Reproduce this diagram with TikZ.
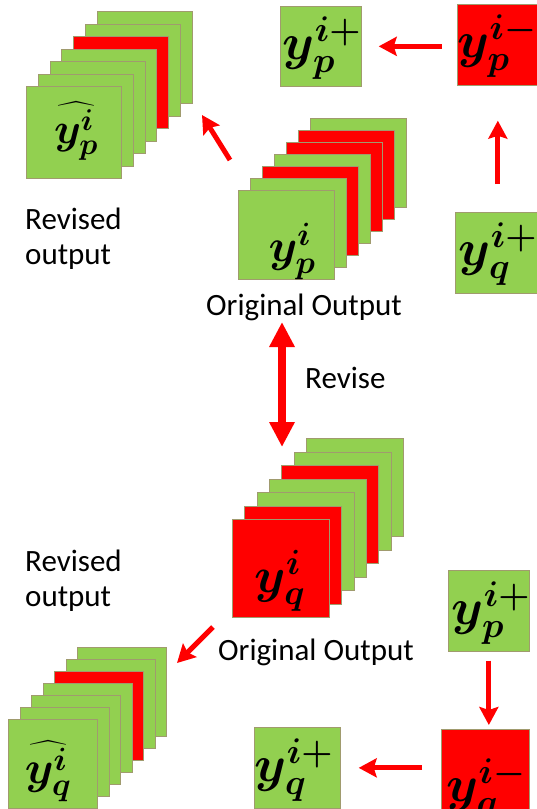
\documentclass[tikz,border=0pt]{standalone}
\usepackage{fix-cm}
\usepackage{amsmath}
\usepackage{bm}
\usepackage{fontspec}
\setmainfont{Carlito}
\usetikzlibrary{arrows.meta}
\definecolor{gr}{RGB}{146,208,80}
\definecolor{rd}{RGB}{255,0,0}
\definecolor{bord}{RGB}{160,155,110}
\newcommand\drawstack[8]{%
  \foreach \c [count=\k from 0] in {#8}{%
    \pgfmathsetmacro\off{6-\k}%
    \node[layer, fill=\c, minimum width=#4pt, minimum height=#5pt] (#1\k) at ({#2+\off*#6},{#3-\off*#7}) {};
  }%
}
\newcommand\ml[2]{\fontsize{#1}{#1}\selectfont$#2$}
\begin{document}
\begin{tikzpicture}[x=1pt,y=-1pt,
  layer/.style={draw=bord, line width=0.7pt, inner sep=0pt, anchor=north west},
  box/.style={draw=bord, line width=0.7pt, inner sep=0pt, anchor=north west},
  mlab/.style={inner sep=0pt},
  txt/.style={inner sep=0pt, font=\fontsize{31}{35}\selectfont},
  arr/.style={draw=red, line width=5pt, -{Stealth[length=18pt,width=19pt,inset=3pt]}},
  bigarr/.style={draw=red, line width=8pt, {Triangle[length=25pt,width=24pt]}-{Triangle[length=25pt,width=24pt]}}]
\useasboundingbox (0,0) rectangle (537,809);

% stacks (colors listed back to front)
\drawstack{tl}{26}{86}{95}{92}{11.8}{12.5}{gr,gr,rd,gr,gr,gr,gr}
\drawstack{tc}{238}{190}{96}{89}{12}{12}{gr,rd,rd,gr,rd,gr,gr}
\drawstack{bc}{232}{519}{97}{98}{12.3}{13.5}{gr,gr,rd,gr,gr,rd,rd}
\drawstack{bl}{8}{719}{89}{89}{11.5}{12}{gr,gr,rd,gr,gr,gr,gr}

\node[mlab] (tlm) at (76,131) {\ml{43}{\widehat{\bm{y}_{\bm{p}}^{\bm{i}}}}};
\node[mlab] (tcm) at (292,251) {\ml{46}{\bm{y_p^i}}};
\node[mlab] (bcm) at (280,581) {\ml{50}{\bm{y_q^i}}};
\node[mlab] (blm) at (48,771) {\ml{46}{\widehat{\bm{y}_{\bm{q}}^{\bm{i}}}}};

% single boxes
\node[box, fill=gr, minimum width=81pt, minimum height=80pt] (pp) at (280,6) {};
\node[box, fill=rd, minimum width=85pt, minimum height=81pt] (pm) at (457,4) {};
\node[box, fill=gr, minimum width=85pt, minimum height=81pt] (qp) at (455,212) {};
\node[box, fill=gr, minimum width=81pt, minimum height=81pt] (pp2) at (448,570) {};
\node[box, fill=rd, minimum width=88pt, minimum height=90pt] (qm) at (441,729) {};
\node[box, fill=gr, minimum width=86pt, minimum height=81pt] (qp2) at (254,727) {};

\node[mlab] (ppm) at (322,48) {\ml{51}{\bm{y_p^{i+}}}};
\node[mlab] (pmm) at (497,46) {\ml{51}{\bm{y_p^{i-}}}};
\node[mlab] (qpm) at (498,254) {\ml{51}{\bm{y_q^{i+}}}};
\node[mlab] (pp2m) at (491,613) {\ml{51}{\bm{y_p^{i+}}}};
\node[mlab] (qmm) at (486,790) {\ml{51}{\bm{y_q^{i-}}}};
\node[mlab] (qp2m) at (294,770) {\ml{51}{\bm{y_q^{i+}}}};

% texts
\node[txt, align=left, anchor=north west] (rev1) at (25,208) {Revised\\output};
\node[txt, anchor=base] (orig1) at (304,315) {Original Output};
\node[txt, anchor=base west] (revise) at (305,388) {Revise};
\node[txt, anchor=base west] (orig2) at (218,660) {Original Output};
\node[txt, align=left, anchor=north west] (rev2) at (25,550) {Revised\\output};

% connectors
\coordinate (a1s) at (230,160);
\coordinate (a1e) at (202,115);
\coordinate (a2s) at (213,627);
\coordinate (a2e) at (177,663);
\coordinate (rvt) at (282,322);
\coordinate (rvb) at (282,447);
\draw[arr] (a1s) -- (a1e);
\draw[arr] (a2s) -- (a2e);
\draw[bigarr] (rvt) -- (rvb);
\draw[arr, shorten <=15pt, shorten >=17pt] (pm.west |- pp.east) -- (pp.east);
\draw[arr, shorten <=28pt, shorten >=35pt] (qp.north) -- (qp.north |- pm.south);
\draw[arr, shorten <=9pt, shorten >=4pt] (pp2.south) -- (pp2.south |- qm.north);
\draw[arr, shorten <=19pt, shorten >=18pt] (qm.west |- qp2.east) -- (qp2.east);
\end{tikzpicture}
\end{document}
